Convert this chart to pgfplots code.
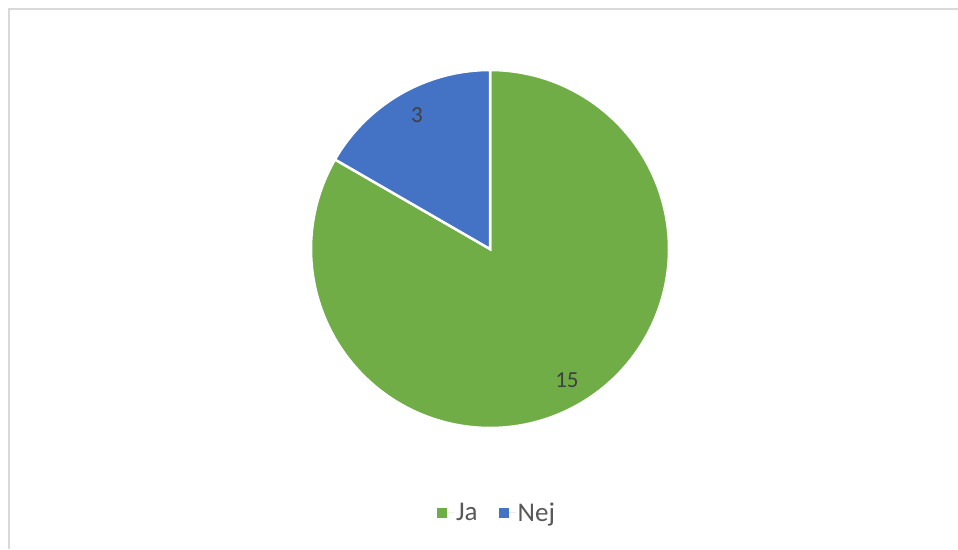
\documentclass[border=0pt]{standalone}
\usepackage{pgfplots}
\pgfplotsset{compat=1.18}
\usepackage{fontspec}
\setmainfont{Carlito}
\definecolor{jagreen}{HTML}{70AD47}
\definecolor{nejblue}{HTML}{4472C4}
\definecolor{lbl}{HTML}{404040}
\definecolor{leg}{HTML}{595959}
\definecolor{frame}{HTML}{D9D9D9}
% data
\def\vJa{15}
\def\vNej{3}
\pgfmathsetmacro{\tot}{\vJa+\vNej}
\pgfmathsetmacro{\aStart}{90}
\pgfmathsetmacro{\aMid}{90-360*\vJa/\tot}
\pgfmathsetmacro{\aEnd}{\aMid-360*\vNej/\tot}
\begin{document}
\begin{tikzpicture}[x=1pt,y=1pt]
\useasboundingbox (0,0) rectangle (958,549);
\fill[white] (0,0) rectangle (958,549);
\draw[frame, line width=1.8pt] (9,0) -- (9,540) -- (958,540);
\begin{axis}[
  at={(0,0)}, anchor=south west,
  scale only axis, width=958pt, height=549pt,
  xmin=-2.7374, xmax=2.6145, ymin=-1.6760, ymax=1.3911,
  hide axis, clip=false,
  legend columns=2,
  legend style={at={(0.5188,0.0656)}, anchor=center, draw=none, fill=none,
    font=\fontsize{27}{30}\selectfont\color{leg},
    /tikz/every even column/.append style={column sep=19pt},
    inner sep=0pt},
  legend image code/.code={\fill[#1, draw=none] (0pt,-5pt) rectangle (10pt,5pt); \path (0pt,0pt) -- (17pt,0pt);},
]
\addplot[fill=jagreen, draw=white, line width=2.5pt, domain=\aMid:\aStart, samples=200, variable=\t, forget plot]
  ({cos(\t)}, {sin(\t)}) -- (axis cs:0,0) -- cycle;
\addplot[fill=nejblue, draw=white, line width=2.5pt, domain=\aEnd:\aMid, samples=80, variable=\t, forget plot]
  ({cos(\t)}, {sin(\t)}) -- (axis cs:0,0) -- cycle;
\node[text=lbl, font=\fontsize{23}{27}\selectfont] at (axis cs:-0.408,0.749) {\vNej};
\node[text=lbl, font=\fontsize{23}{27}\selectfont] at (axis cs:0.430,-0.732) {\vJa};
\addlegendimage{fill=jagreen, draw=none}
\addlegendentry{Ja}
\addlegendimage{fill=nejblue, draw=none}
\addlegendentry{Nej}
\end{axis}
\end{tikzpicture}
\end{document}
